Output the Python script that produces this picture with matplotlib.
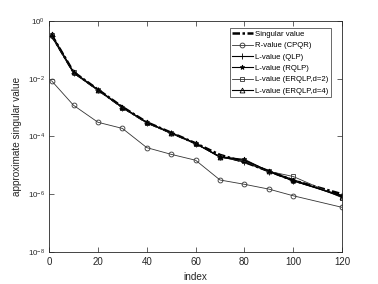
import numpy as np
import matplotlib.pyplot as plt

plt.rcParams['font.family'] = ['Liberation Sans', 'DejaVu Sans']
plt.rcParams['mathtext.fontset'] = 'custom'
plt.rcParams['mathtext.rm'] = 'Liberation Sans'

# sample indices
idx = [1, 10, 20, 30, 40, 50, 60, 70, 80, 90, 100, 120]

sing_val = [0.33, 1.7e-2, 4.2e-3, 1.05e-3, 3.1e-4, 1.35e-4, 5.8e-5, 2.3e-5, 1.3e-5, 6.3e-6, 3.0e-6, 1.0e-6]
r_cpqr = [8.5e-3, 1.2e-3, 3.1e-4, 1.9e-4, 4.1e-5, 2.4e-5, 1.5e-5, 3.1e-6, 2.2e-6, 1.5e-6, 8.8e-7, 3.5e-7]
l_qlp = [0.30, 1.6e-2, 4.0e-3, 1.0e-3, 3.0e-4, 1.3e-4, 5.6e-5, 2.0e-5, 1.3e-5, 6.0e-6, 2.9e-6, 9.0e-7]
l_rqlp = [0.31, 1.6e-2, 4.1e-3, 1.0e-3, 3.0e-4, 1.3e-4, 5.7e-5, 2.0e-5, 1.6e-5, 6.2e-6, 2.9e-6, 8.5e-7]
l_erqlp2 = [0.32, 1.65e-2, 4.0e-3, 1.0e-3, 3.0e-4, 1.3e-4, 5.7e-5, 1.9e-5, 1.4e-5, 6.2e-6, 4.1e-6, 7.5e-7]
l_erqlp4 = [0.35, 1.7e-2, 4.2e-3, 1.05e-3, 3.1e-4, 1.35e-4, 5.8e-5, 1.9e-5, 1.5e-5, 6.3e-6, 3.2e-6, 8.0e-7]

labels = ['Singular value', 'R-value (CPQR)', 'L-value (QLP)', 'L-value (RQLP)',
          'L-value (ERQLP,d=2)', 'L-value (ERQLP,d=4)']
xticks = [0, 20, 40, 60, 80, 100, 120]
yticks = [1e-8, 1e-6, 1e-4, 1e-2, 1e0]

fig = plt.figure(figsize=(3.78, 2.84), dpi=100)
ax = fig.add_axes([0.130, 0.113, 0.775, 0.813])

mk = dict(markersize=3.5, markerfacecolor='none', markeredgewidth=0.6)
ax.plot(idx, sing_val, color='black', linestyle='-.', dashes=(3, 1, 1, 1),
        linewidth=1.8, label=labels[0])
ax.plot(idx, r_cpqr, color='#333333', linewidth=0.6, marker='o', label=labels[1], **mk)
ax.plot(idx, l_qlp, color='black', linewidth=0.8, marker='+', markersize=4,
        markeredgewidth=0.6, label=labels[2])
ax.plot(idx, l_rqlp, color='black', linewidth=0.8, marker='*', markersize=3.5,
        markeredgewidth=0.6, label=labels[3])
ax.plot(idx, l_erqlp2, color='#333333', linewidth=0.6, marker='s', label=labels[4], **mk)
ax.plot(idx, l_erqlp4, color='black', linewidth=0.8, marker='^', label=labels[5], **mk)

ax.set_yscale('log')
ax.set_xlim(0, 120)
ax.set_ylim(1e-8, 1e0)
ax.set_xticks(xticks)
ax.set_yticks(yticks)
ax.yaxis.set_minor_locator(plt.NullLocator())
ax.tick_params(direction='in', top=True, right=True, length=3.5, width=0.5,
               colors='#262626', pad=4)
ax.tick_params(axis='x', labelsize=7)
ax.tick_params(axis='y', labelsize=5.8, pad=3)
for spine in ax.spines.values():
    spine.set_linewidth(0.6)
    spine.set_color('#262626')

ax.set_xlabel('index', fontsize=7.2, color='#262626', labelpad=3)
ax.set_ylabel('approximate singular value', fontsize=7.2, color='#262626', labelpad=4)

leg = ax.legend(loc='upper right', bbox_to_anchor=(0.962, 0.97), borderaxespad=0,
                fontsize=5.6, frameon=True, fancybox=False, handlelength=2.6,
                handletextpad=0.3, borderpad=0.35, labelspacing=0.5)
leg.get_frame().set_edgecolor('#262626')
leg.get_frame().set_linewidth(0.6)

fig.savefig('out.png', dpi=100)
